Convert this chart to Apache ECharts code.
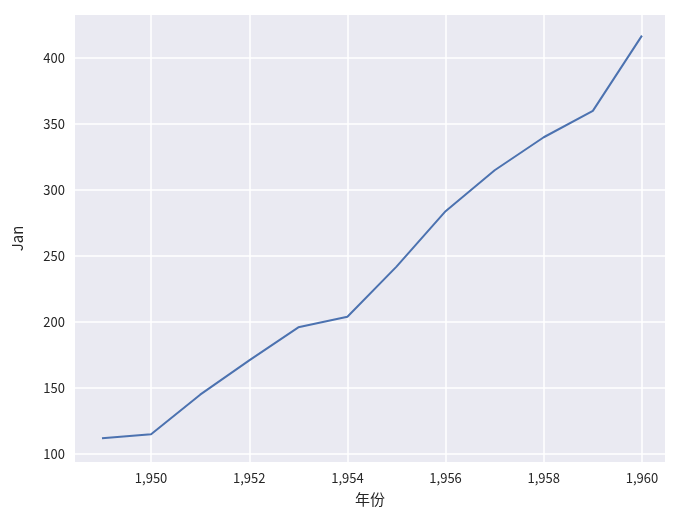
<!DOCTYPE html>
<html>
<head>
<meta charset="utf-8">
<script src="https://cdn.jsdelivr.net/npm/echarts@6/dist/echarts.min.js"></script>
<style>html,body{margin:0;padding:0;background:#fff}#chart{width:682px;height:524px}</style>
</head>
<body>
<div id="chart"></div>
<script>
var years = [1949, 1950, 1951, 1952, 1953, 1954, 1955, 1956, 1957, 1958, 1959, 1960]
var jan = [112, 115, 145, 171, 196, 204, 242, 284, 315, 340, 360, 417]
var xTicks = [1950, 1952, 1954, 1956, 1958, 1960]
var yTicks = [100, 150, 200, 250, 300, 350, 400]

var font = '"Noto Sans CJK SC", "DejaVu Sans", sans-serif'
var myChart = echarts.init(document.getElementById('chart'))
var option = {
  backgroundColor: '#fff',
  animation: false,
  grid: { left: 75, right: 17, top: 15, bottom: 62, show: true, backgroundColor: '#EAEAF2', borderWidth: 0 },
  xAxis: {
    type: 'value', min: 1948.45, max: 1960.47,
    name: '年份', nameLocation: 'middle', nameGap: 30,
    nameTextStyle: { fontFamily: font, fontSize: 15, color: '#262626' },
    axisLine: { show: false },
    axisTick: { show: false, customValues: xTicks },
    axisLabel: { customValues: xTicks, fontFamily: font, fontSize: 13, color: '#262626', margin: 10 },
    splitLine: { show: true, lineStyle: { color: '#fff', width: 1.5 } }
  },
  yAxis: {
    type: 'value', min: 94, max: 432.6,
    name: 'Jan', nameLocation: 'middle', nameGap: 50,
    nameTextStyle: { fontFamily: font, fontSize: 15, color: '#262626' },
    axisLine: { show: false },
    axisTick: { show: false, customValues: yTicks },
    axisLabel: { customValues: yTicks, fontFamily: font, fontSize: 13, color: '#262626', margin: 10 },
    splitLine: { show: true, lineStyle: { color: '#fff', width: 1.5 } }
  },
  series: [{
    type: 'line',
    data: years.map(function (y, i) { return [y, jan[i]] }),
    showSymbol: false,
    lineStyle: { color: '#4C72B0', width: 2 }
  }]
}
myChart.setOption(option)
</script>
</body>
</html>
